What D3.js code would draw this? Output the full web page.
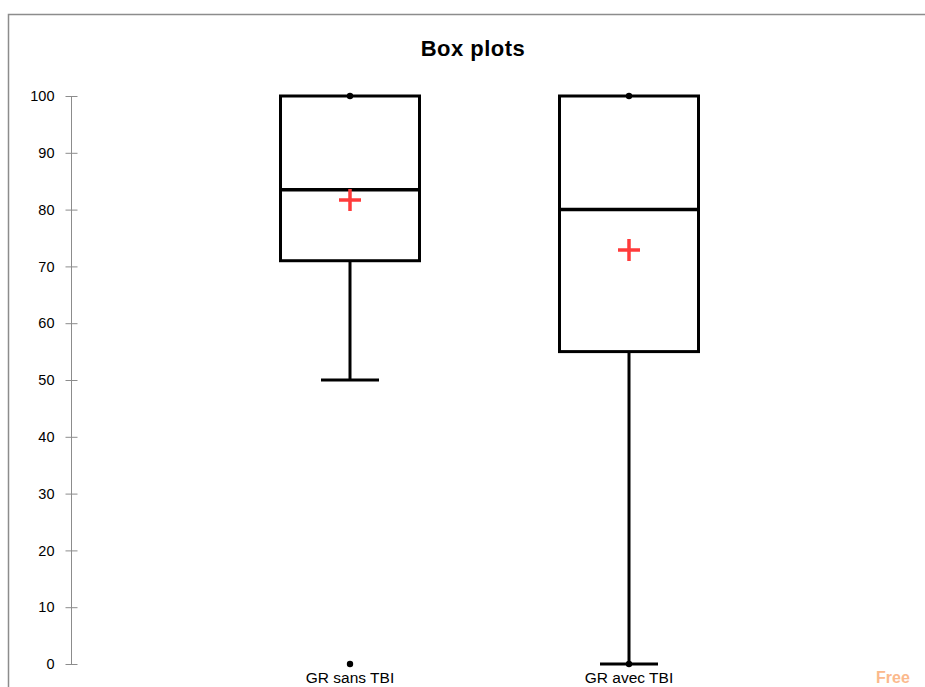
<!DOCTYPE html>
<html><head><meta charset="utf-8">
<script src="https://cdn.jsdelivr.net/npm/d3@7"></script>
<style>body{margin:0;background:#fff}svg{display:block}</style>
</head><body>
<script>
const categories = ["GR sans TBI", "GR avec TBI"];
const minVals    = [50, 0];
const q1Vals     = [71, 55];
const medianVals = [83.5, 80];
const q3Vals     = [100, 100];
const maxVals    = [100, 100];
const meanVals   = [81.7, 72.9];
const extremePoints = [[100, 0], [100, 0]];
const yTicks = [0,10,20,30,40,50,60,70,80,90,100];

const W = 925, H = 687;
const svg = d3.select("body").append("svg").attr("width", W).attr("height", H);

// outer frame
svg.append("rect").attr("x", 8.5).attr("y", 14.5).attr("width", 930).attr("height", 700)
  .attr("fill", "none").attr("stroke", "#8c8c8c").attr("stroke-width", 1.5);

svg.append("text").attr("x", 473).attr("y", 56).attr("text-anchor", "middle")
  .style("font-family", "Liberation Sans, Arial, sans-serif").style("font-weight", "bold")
  .style("font-size", "22px").style("letter-spacing", "0.5px").text("Box plots");

const y = d3.scaleLinear().domain([0, 100]).range([664, 96]);
const x = d3.scalePoint().domain(categories).range([71, 908]).padding(1);

// y axis
const yAxis = svg.append("g").attr("transform", "translate(71.5,0)")
  .call(d3.axisLeft(y).tickValues(yTicks).tickSize(5).tickPadding(12));
yAxis.select(".domain").attr("stroke", "#8c8c8c").attr("d", `M0,${y(100)}V${y(0)}`);
yAxis.selectAll(".tick line").attr("stroke", "#8c8c8c").attr("x1", 6).attr("x2", -6);
yAxis.selectAll(".tick text").style("font-family", "Liberation Sans, Arial, sans-serif")
  .style("font-size", "14.5px").attr("fill", "#000");

const bw = 139, capW = 58;
categories.forEach((c, i) => {
  const cx = x(c);
  const g = svg.append("g");
  // whisker
  g.append("line").attr("x1", cx).attr("x2", cx).attr("y1", y(q1Vals[i])).attr("y2", y(minVals[i]))
    .attr("stroke", "#000").attr("stroke-width", 3);
  g.append("line").attr("x1", cx - capW/2).attr("x2", cx + capW/2).attr("y1", y(minVals[i])).attr("y2", y(minVals[i]))
    .attr("stroke", "#000").attr("stroke-width", 3);
  if (maxVals[i] > q3Vals[i]) {
    g.append("line").attr("x1", cx).attr("x2", cx).attr("y1", y(q3Vals[i])).attr("y2", y(maxVals[i]))
      .attr("stroke", "#000").attr("stroke-width", 3);
  }
  // box
  g.append("rect").attr("x", cx - bw/2).attr("y", y(q3Vals[i]))
    .attr("width", bw).attr("height", y(q1Vals[i]) - y(q3Vals[i]))
    .attr("fill", "none").attr("stroke", "#000").attr("stroke-width", 3);
  g.append("line").attr("x1", cx - bw/2).attr("x2", cx + bw/2).attr("y1", y(medianVals[i])).attr("y2", y(medianVals[i]))
    .attr("stroke", "#000").attr("stroke-width", 3.5);
  // extreme points
  extremePoints[i].forEach(v => {
    g.append("circle").attr("cx", cx).attr("cy", y(v)).attr("r", 3.2).attr("fill", "#000");
  });
  // mean
  const my = y(meanVals[i]);
  g.append("path").attr("d", `M${cx-11},${my}H${cx+11}M${cx},${my-11}V${my+11}`)
    .attr("stroke", "#ff3b3b").attr("stroke-width", 3.5);
  // label
  svg.append("text").attr("x", cx).attr("y", 683).attr("text-anchor", "middle")
    .style("font-family", "Liberation Sans, Arial, sans-serif").style("font-size", "15.5px")
    .text(c);
});

// watermark remnant
svg.append("text").attr("x", 876).attr("y", 683).style("font-family", "Liberation Sans, Arial, sans-serif")
  .style("font-weight", "bold").style("font-size", "16px").attr("fill", "#fbb98c").text("Free");
</script>
</body></html>
